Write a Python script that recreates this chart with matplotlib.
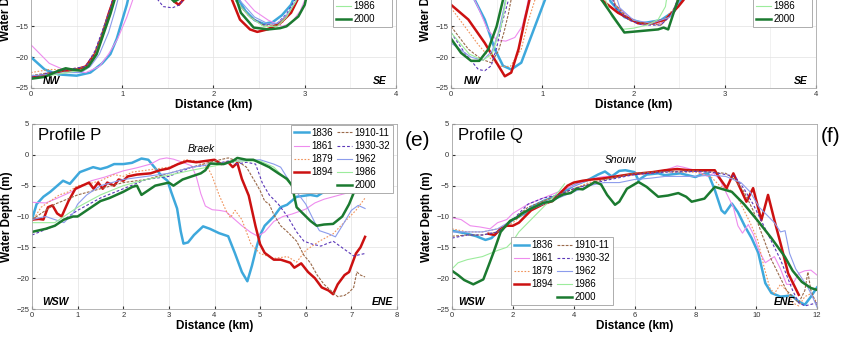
import matplotlib
matplotlib.use("Agg")
import matplotlib.pyplot as plt
from matplotlib.lines import Line2D
from matplotlib.ticker import MultipleLocator

plt.rcParams['font.family'] = ['Liberation Sans', 'DejaVu Sans']

YEARS = ['1836', '1861', '1879', '1894', '1910-11', '1930-32', '1962', '1986', '2000']

# ---- upper left panel (only the deep part is in view) ----
C_1836 = [(0, -20), (0.15, -22), (0.3, -22.8), (0.5, -23), (0.65, -22.5), (0.78, -21), (0.87, -19.5),
          (0.94, -17), (1.0, -14), (1.05, -11.5), (1.12, -7), (1.2, -4), (2.1, -5), (2.25, -10),
          (2.35, -12.5), (2.45, -14), (2.55, -14.6), (2.65, -14.3), (2.75, -13.2), (2.85, -11.5),
          (2.95, -8), (3.05, -4)]
C_1861 = [(0, -18), (0.2, -21), (0.4, -22.3), (0.6, -22.5), (0.75, -21.5), (0.85, -19.5), (0.95, -17),
          (1.05, -13.5), (1.12, -10.5), (1.2, -6), (2.15, -5), (2.3, -10), (2.45, -12.5), (2.6, -14),
          (2.75, -15), (2.85, -14.5), (2.95, -12.5), (3.05, -9), (3.15, -5)]
C_1879 = [(0, -22.5), (0.2, -22), (0.4, -22), (0.6, -21.5), (0.7, -19.5), (0.8, -15), (0.85, -13),
          (0.92, -10), (1.0, -5), (2.1, -6), (2.25, -11), (2.4, -13.5), (2.55, -15), (2.65, -15.2),
          (2.75, -14.5), (2.85, -12.5), (2.95, -9.5), (3.05, -5)]
C_1894 = [(0, -23.3), (0.2, -22.8), (0.35, -22.2), (0.5, -22), (0.6, -21.5), (0.7, -19.5), (0.78, -16.5),
          (0.85, -13), (0.92, -10), (1.0, -5), (1.4, -5), (1.5, -9), (1.57, -11), (1.62, -11.5),
          (1.68, -10.5), (1.75, -8), (1.85, -4), (2.1, -5), (2.2, -10.6), (2.29, -13.9), (2.4, -15.5),
          (2.48, -15.9), (2.59, -15.5), (2.73, -14.5), (2.85, -12.8), (2.92, -10.7), (3.0, -6)]
C_1910 = [(0, -23), (0.2, -22.5), (0.4, -22.3), (0.6, -21.5), (0.7, -19.5), (0.78, -16), (0.85, -13),
          (0.93, -10), (1.0, -5), (2.1, -6), (2.25, -11), (2.4, -13.5), (2.55, -14.8), (2.7, -14.8),
          (2.8, -13.5), (2.9, -11), (3.0, -6)]
C_1930 = [(0, -23.3), (0.2, -22.5), (0.4, -22), (0.6, -21.5), (0.7, -19), (0.8, -15), (0.88, -11.5),
          (0.95, -6), (1.3, -6), (1.38, -10.5), (1.45, -11.8), (1.55, -12), (1.63, -11.5), (1.7, -10),
          (1.78, -6), (2.1, -6), (2.25, -11), (2.4, -13.5), (2.55, -14.8), (2.7, -14.5), (2.8, -13),
          (2.9, -10.5), (3.0, -6)]
C_1962 = [(0, -23), (0.2, -22.8), (0.4, -22.5), (0.55, -22.5), (0.65, -21.5), (0.75, -19.5), (0.85, -16),
          (0.92, -12.5), (1.0, -8), (1.05, -5), (2.15, -6), (2.3, -11), (2.45, -13.5), (2.6, -14.6),
          (2.7, -14.5), (2.8, -13.2), (2.9, -11), (3.0, -6)]
C_1986 = [(0, -23.5), (0.2, -23), (0.4, -22.5), (0.6, -22), (0.7, -20), (0.8, -16), (0.87, -13),
          (0.95, -9), (1.0, -5), (2.1, -6), (2.25, -11), (2.4, -13.5), (2.55, -15), (2.7, -15),
          (2.8, -13.5), (2.9, -11), (3.0, -6)]
C_2000 = [(0, -23.5), (0.15, -23.2), (0.3, -22.2), (0.38, -21.8), (0.45, -22), (0.55, -22.2), (0.63, -21.5),
          (0.72, -19.5), (0.8, -16), (0.87, -13), (0.93, -10), (1.0, -5), (1.4, -6), (1.5, -10),
          (1.57, -11), (1.63, -10.5), (1.72, -7), (1.8, -4), (2.15, -6), (2.3, -12.8), (2.44, -15.2),
          (2.6, -15.5), (2.73, -15.3), (2.8, -15), (2.93, -13.4), (3.0, -11.5), (3.08, -6)]

# ---- upper right panel ----
D_1836 = [(0, -3), (0.2, -8), (0.26, -10.7), (0.37, -13.9), (0.48, -18.7), (0.57, -21.4), (0.66, -22),
          (0.77, -20.9), (0.92, -15), (1.03, -10.7), (1.15, -5), (1.6, -5), (1.75, -11), (1.9, -13.5),
          (2.1, -14.5), (2.3, -14), (2.45, -12.5), (2.55, -10), (2.65, -5)]
D_1861 = [(0, -5), (0.2, -9), (0.3, -12), (0.4, -15.5), (0.5, -17.2), (0.6, -17.4), (0.7, -16.8),
          (0.78, -15), (0.83, -12), (0.9, -6), (1.65, -5), (1.8, -11.5), (1.95, -13.5), (2.1, -14.8),
          (2.3, -14.5), (2.45, -12.5), (2.55, -9), (2.6, -5)]
D_1879 = [(0, -12), (0.15, -15), (0.3, -18), (0.45, -20.5), (0.55, -21.5), (0.65, -21.5), (0.77, -18.7),
          (0.85, -14), (0.92, -10.7), (1.0, -5), (1.65, -5), (1.8, -11.5), (1.95, -14), (2.1, -14.5),
          (2.3, -14.5), (2.45, -12), (2.55, -8), (2.6, -5)]
D_1894 = [(0, -11.5), (0.19, -13.9), (0.37, -17.7), (0.52, -21.4), (0.59, -23.1), (0.66, -22.5),
          (0.74, -18.7), (0.81, -13.9), (0.86, -10.7), (0.92, -5), (1.6, -5), (1.65, -10.7),
          (1.83, -12.8), (2.05, -14.5), (2.2, -14.5), (2.35, -13.9), (2.49, -11.8), (2.55, -10.7),
          (2.62, -5)]
D_1910 = [(0, -15), (0.19, -18.7), (0.33, -20.3), (0.44, -20.9), (0.52, -19), (0.58, -16), (0.63, -12.9),
          (0.68, -9), (0.75, -5), (1.65, -5), (1.8, -11.5), (1.95, -13.8), (2.1, -14.5), (2.3, -14.8),
          (2.42, -13), (2.5, -10), (2.55, -5)]
D_1930 = [(0, -16), (0.15, -19.3), (0.3, -22), (0.37, -22.2), (0.44, -21.4), (0.5, -18.5), (0.55, -15),
          (0.63, -10.7), (0.7, -5), (1.65, -5), (1.8, -12), (1.95, -14), (2.1, -14.8), (2.3, -14.8),
          (2.42, -13), (2.5, -10), (2.55, -5)]
D_1962 = [(0, -17.7), (0.22, -20), (0.35, -20.5), (0.45, -19), (0.52, -16), (0.58, -12), (0.63, -8),
          (0.68, -5), (1.7, -5), (1.85, -12), (2.0, -14), (2.2, -14.5), (2.4, -13.5), (2.5, -11),
          (2.6, -5)]
D_1986 = [(0, -16), (0.2, -19.5), (0.35, -20.5), (0.45, -19.5), (0.55, -15), (0.6, -11), (0.65, -5),
          (1.6, -5), (1.7, -11), (1.76, -13.4), (1.87, -15.5), (2.0, -15.3), (2.15, -14.8),
          (2.27, -13.9), (2.35, -11.8), (2.42, -5)]
D_2000 = [(0, -17), (0.11, -19.3), (0.22, -20.6), (0.31, -20.6), (0.41, -18.7), (0.5, -15), (0.57, -10.7),
          (0.63, -5), (1.55, -5), (1.65, -10.7), (1.8, -13.9), (1.9, -16), (2.05, -15.8), (2.27, -15.5),
          (2.33, -15.2), (2.38, -15.5), (2.44, -12.8), (2.49, -10.7), (2.55, -5)]

# ---- Profile P ----
P_1836 = [(0, -10.5), (0.1, -8), (0.25, -6.8), (0.4, -6), (0.68, -4.2), (0.83, -4.7), (1.05, -2.8),
          (1.34, -2), (1.5, -2.3), (1.65, -2), (1.8, -1.5), (2.0, -1.5), (2.19, -1.3), (2.4, -0.6),
          (2.55, -0.8), (2.66, -1.8), (2.85, -3.5), (2.97, -4.2), (3.05, -6), (3.18, -8.7), (3.26, -12.4),
          (3.32, -14.4), (3.42, -14.2), (3.55, -13), (3.75, -11.6), (3.9, -12), (4.1, -12.7), (4.3, -13.2),
          (4.45, -16), (4.6, -19), (4.72, -20.5), (4.82, -18), (4.92, -15), (5.0, -13), (5.1, -11.5),
          (5.3, -10), (5.45, -8.5), (5.59, -8.1), (5.8, -6.8), (6.1, -6.5), (6.25, -6.7), (6.4, -6),
          (6.55, -5.3), (6.65, -4.5)]
P_1861 = [(0, -7.7), (0.3, -7.8), (0.5, -7.2), (0.8, -6.2), (1.0, -5.5), (1.3, -4.2), (1.6, -3.6),
          (2.0, -2.6), (2.3, -2.1), (2.6, -1.5), (2.8, -0.7), (2.95, -0.5), (3.1, -0.7), (3.3, -1.2),
          (3.5, -1.8), (3.6, -3.5), (3.7, -6.3), (3.8, -8.3), (3.95, -8.9), (4.1, -9), (4.25, -9.2),
          (4.4, -10.2), (4.6, -11.5), (4.8, -12.6), (4.95, -13.2), (5.1, -12.5), (5.3, -10.8),
          (5.5, -10), (5.7, -9.6), (6.0, -8.8), (6.2, -7.8), (6.4, -7.2), (6.7, -6.6), (6.95, -6.1)]
P_1879 = [(0, -10.8), (0.2, -8.5), (0.4, -7.5), (0.6, -6.5), (0.8, -6), (1.0, -5), (1.2, -4.8),
          (1.5, -4.2), (1.8, -3.2), (2.0, -3.5), (2.2, -2.8), (2.5, -2.5), (2.8, -2.2), (3.0, -2),
          (3.2, -1.5), (3.35, -0.8), (3.6, -1), (3.85, -2), (3.95, -3.5), (4.1, -6.5), (4.25, -9),
          (4.35, -10.2), (4.45, -9), (4.6, -10.5), (4.8, -14.5), (5.0, -16), (5.3, -16.8), (5.6, -16.5),
          (5.8, -17.4), (6.0, -15.5), (6.3, -14), (6.6, -12.8), (6.9, -10.5), (7.1, -9), (7.3, -7)]
P_1894 = [(0, -10.5), (0.15, -10.4), (0.25, -10.5), (0.35, -8.5), (0.45, -8.2), (0.55, -9.5),
          (0.65, -10), (0.8, -7.5), (0.95, -5.5), (1.1, -5), (1.25, -4.5), (1.35, -5.5), (1.45, -4.5),
          (1.55, -5.5), (1.65, -4.5), (1.8, -5), (1.9, -4), (2.0, -4.2), (2.1, -3.5), (2.3, -3.2),
          (2.6, -3), (2.8, -2.5), (3.0, -2.2), (3.2, -1.5), (3.4, -1), (3.6, -1.2), (3.8, -1),
          (4.0, -0.8), (4.15, -1.5), (4.3, -1.2), (4.4, -2), (4.5, -1.3), (4.6, -3.9), (4.75, -6.6),
          (4.9, -11.6), (5.0, -14.5), (5.1, -15.9), (5.3, -17), (5.45, -17), (5.66, -17.5),
          (5.75, -18.3), (5.9, -17.6), (6.05, -19), (6.2, -20), (6.35, -21.5), (6.5, -22), (6.6, -22.6),
          (6.7, -21), (6.85, -19.5), (6.95, -19), (7.1, -16), (7.2, -15), (7.3, -13.3)]
P_1910 = [(0, -10.5), (0.5, -8), (1.0, -6.5), (1.5, -5.5), (2.0, -4.5), (2.5, -4), (3.0, -3), (3.5, -2),
          (4.0, -1), (4.3, -0.5), (4.5, -1), (4.7, -2), (4.9, -4.5), (5.0, -5.8), (5.1, -7.5),
          (5.2, -8), (5.3, -9.7), (5.45, -11.5), (5.6, -12.5), (5.8, -14), (5.96, -16.3), (6.1, -17.5),
          (6.25, -19.5), (6.4, -21), (6.55, -22), (6.7, -23), (6.85, -22.8), (6.95, -22.3),
          (7.05, -21.5), (7.12, -19), (7.2, -19.5), (7.3, -19.8)]
P_1930 = [(0, -13), (0.5, -11.5), (1.0, -9), (1.5, -7), (2.0, -5.5), (2.5, -4), (3.0, -3.5), (3.5, -2),
          (4.0, -1.5), (4.3, -1), (4.5, -1.5), (4.7, -1.2), (4.9, -1.5), (5.05, -4.6), (5.2, -6.5),
          (5.4, -8), (5.6, -10), (5.8, -12.5), (5.96, -14), (6.15, -14.5), (6.33, -14.8), (6.6, -14),
          (6.9, -15.6), (7.05, -16.4), (7.3, -16)]
P_1962 = [(0, -10.5), (0.3, -10), (0.5, -10.5), (0.7, -11), (0.9, -9.5), (1.0, -8), (1.2, -6.5),
          (1.5, -5), (2.0, -4), (2.5, -3.5), (3.0, -3), (3.5, -2), (4.0, -1.5), (4.5, -1), (5.0, -0.8),
          (5.3, -1.5), (5.45, -2), (5.7, -5), (5.88, -6.8), (6.0, -8), (6.1, -9.5), (6.2, -11),
          (6.3, -12.3), (6.5, -12.8), (6.65, -13.3), (6.8, -11.5), (7.0, -9), (7.15, -8.2), (7.3, -8.7)]
P_1986 = [(0, -11), (0.5, -11), (1.0, -8.5), (1.5, -6.5), (2.0, -5), (2.5, -4), (3.0, -3.3), (3.5, -2.5),
          (4.0, -1.8), (4.5, -1), (5.0, -1), (5.3, -2), (5.5, -3.5), (5.7, -5)]
P_2000 = [(0, -12.5), (0.3, -12), (0.5, -11.5), (0.7, -10.5), (0.9, -10), (1.0, -10), (1.1, -9.5),
          (1.3, -8.5), (1.5, -7.5), (1.7, -7), (2.0, -6), (2.2, -5.2), (2.3, -5), (2.4, -6.5),
          (2.5, -6), (2.7, -5), (3.0, -4.5), (3.1, -5), (3.3, -4), (3.5, -3.5), (3.7, -3), (3.8, -2.5),
          (3.9, -1.4), (4.2, -1.5), (4.4, -1), (4.5, -0.5), (4.7, -0.8), (4.85, -0.8), (5.0, -1.3),
          (5.2, -2), (5.4, -3), (5.59, -3.9), (5.7, -5), (5.8, -8.5), (5.95, -9.6), (6.1, -10.7),
          (6.24, -11.5), (6.4, -11.3), (6.6, -11.2), (6.8, -10), (6.95, -8), (7.1, -5.3)]

# ---- Profile Q ----
Q_1836 = [(0, -12.3), (0.5, -12.8), (0.8, -13.2), (1.1, -13.8), (1.3, -13.5), (1.5, -12.5), (1.86, -11.1),
          (2.0, -10.5), (2.4, -9.5), (2.6, -8.5), (3.0, -7.5), (3.5, -6.5), (4.0, -5), (4.5, -4),
          (4.8, -3.2), (5.03, -2.7), (5.25, -3.5), (5.5, -2.6), (5.7, -2.5), (6.0, -2.8), (6.13, -4.1),
          (6.4, -3.2), (6.78, -3), (7.0, -3.3), (7.5, -3), (8.0, -3.6), (8.2, -3.2), (8.42, -3),
          (8.64, -5.7), (8.86, -9), (8.97, -9.5), (9.2, -7.9), (9.4, -9.3), (9.63, -11.6), (9.85, -13.5),
          (10.07, -15.9), (10.3, -20.8), (10.5, -22.4), (10.8, -23), (11.16, -22.8), (11.4, -23.8),
          (11.6, -24.3), (11.8, -23), (12.0, -21.5)]
Q_1861 = [(0, -10.2), (0.3, -10.5), (0.6, -11.5), (0.92, -11.7), (1.25, -12), (1.5, -11), (1.8, -10.5),
          (2.0, -9.5), (2.5, -8), (3.0, -7), (3.5, -6), (4.0, -5), (4.5, -4), (5.0, -3.5), (5.5, -3.5),
          (6.0, -3), (6.5, -3), (7.0, -2.5), (7.4, -1.8), (7.6, -2), (8.0, -2.5), (8.4, -3.5), (8.6, -3),
          (8.8, -4), (9.0, -6), (9.25, -8.5), (9.4, -11.5), (9.55, -12.7), (9.74, -11.3), (9.9, -12.8),
          (10.1, -15.6), (10.3, -17.5), (10.45, -17), (10.6, -16.5), (10.8, -18.5), (11.0, -21),
          (11.2, -21), (11.4, -19.2), (11.6, -18.8), (11.8, -18.7), (12.0, -19.5)]
Q_1879 = [(0, -12), (0.5, -12.5), (1.0, -12.5), (1.5, -12), (2.0, -11), (2.5, -9), (3.0, -7.5), (3.5, -6.5),
          (4.0, -5.5), (4.5, -4.5), (5.0, -4), (5.5, -3.5), (6.0, -3), (7.0, -2.8), (8.0, -2.8),
          (8.5, -3.5), (8.8, -5), (9.15, -5.7), (9.4, -7), (9.6, -9), (9.8, -11), (10.05, -13.8),
          (10.25, -18), (10.45, -21.6), (10.6, -22.5), (10.8, -21), (11.0, -22), (11.2, -24),
          (11.4, -24.5), (11.6, -23), (11.8, -22.5), (12.0, -24)]
Q_1894 = [(1.2, -12.8), (1.4, -13), (1.6, -12), (1.8, -11.5), (2.0, -11.5), (2.2, -11), (2.4, -10),
          (2.6, -9), (2.8, -8.5), (3.0, -8), (3.3, -7.5), (3.6, -6), (3.8, -5), (4.0, -4.5), (4.3, -4.2),
          (4.6, -4), (5.0, -3.8), (5.4, -3.5), (5.8, -3.2), (6.2, -3), (6.6, -2.8), (7.0, -2.5),
          (7.4, -2.3), (7.8, -2.5), (8.2, -2.5), (8.64, -2.5), (8.8, -3.8), (9.03, -5.4), (9.25, -3),
          (9.68, -7.6), (9.9, -5.4), (10.17, -10.6), (10.39, -6.5), (10.6, -10.6), (10.83, -14.9),
          (11.05, -19.2), (11.4, -22.7)]
Q_1910 = [(0, -13.2), (0.5, -13), (1.0, -13), (1.5, -12.5), (2.0, -10.5), (2.5, -8.5), (3.0, -7.5),
          (3.5, -6.5), (4.0, -5.5), (5.0, -4), (6.0, -3), (7.0, -2.7), (8.0, -2.6), (8.5, -2.8),
          (9.0, -3), (9.3, -4), (9.6, -6), (9.9, -9), (10.2, -13), (10.5, -17), (10.8, -20), (11.0, -22),
          (11.2, -23), (11.4, -24), (11.6, -22), (11.7, -19), (11.8, -22), (12.0, -24.5)]
Q_1930 = [(0, -13.5), (0.5, -13), (1.0, -13), (1.5, -12.5), (2.0, -10.5), (2.5, -8), (3.0, -7), (3.5, -6.5),
          (4.0, -5.5), (5.0, -4.2), (6.0, -3.2), (7.0, -2.8), (8.0, -2.7), (8.5, -2.8), (9.0, -3.2),
          (9.3, -3.5), (9.6, -5.5), (9.9, -8), (10.2, -11), (10.5, -14), (10.8, -17), (11.0, -19.5),
          (11.2, -22), (11.4, -24), (11.6, -24.5), (12.0, -24)]
Q_1962 = [(0, -12.5), (0.5, -12.5), (1.0, -12.5), (1.5, -12), (2.0, -10.5), (2.5, -9), (3.0, -8), (3.5, -7),
          (4.0, -6), (4.5, -5), (5.0, -4.5), (5.5, -4.5), (6.0, -4), (6.5, -3.8), (7.0, -3.5), (7.5, -3.5),
          (8.0, -3.5), (8.5, -3.3), (9.0, -3.5), (9.5, -4.5), (9.8, -6), (10.1, -8.5), (10.4, -10),
          (10.6, -11), (10.8, -12.5), (10.95, -12.3), (11.1, -16), (11.3, -18.5), (11.5, -20),
          (11.7, -21.5), (11.85, -23), (12.0, -24.7)]
Q_1986 = [(0, -18.5), (0.2, -17.5), (0.5, -17), (1.0, -16.5), (1.5, -15.5), (1.8, -15), (2.0, -14),
          (2.2, -12.5), (2.5, -11), (2.8, -9.5), (3.0, -8.5), (3.2, -7.5), (3.5, -6), (3.7, -4.7)]
Q_2000 = [(0, -18.8), (0.2, -19.5), (0.4, -20.3), (0.7, -21), (1.03, -20.2), (1.2, -18), (1.36, -15.9),
          (1.6, -12.5), (1.91, -10.7), (2.13, -10.2), (2.3, -9.5), (2.57, -8.8), (3.0, -7.8),
          (3.3, -7.5), (3.5, -6.8), (3.67, -6.4), (3.9, -6.2), (4.1, -5.5), (4.3, -5.6), (4.5, -5),
          (4.7, -4.4), (4.9, -4.8), (5.1, -6.5), (5.36, -8.1), (5.5, -7.6), (5.75, -5.5), (6.13, -4.4),
          (6.4, -5.2), (6.78, -6.8), (7.1, -6.6), (7.44, -6.2), (7.7, -6.8), (7.88, -7.6), (8.3, -7.1),
          (8.64, -5.2), (9.2, -6), (9.6, -8), (10.07, -10.8), (10.5, -13.5), (10.94, -16.5),
          (11.2, -18.8), (11.5, -20.6), (11.8, -21.6), (12.0, -21.9)]

C_SERIES = [C_1836, C_1861, C_1879, C_1894, C_1910, C_1930, C_1962, C_1986, C_2000]
D_SERIES = [D_1836, D_1861, D_1879, D_1894, D_1910, D_1930, D_1962, D_1986, D_2000]
P_SERIES = [P_1836, P_1861, P_1879, P_1894, P_1910, P_1930, P_1962, P_1986, P_2000]
Q_SERIES = [Q_1836, Q_1861, Q_1879, Q_1894, Q_1910, Q_1930, Q_1962, Q_1986, Q_2000]

STYLE = {
    '1836': dict(color='#3ea8dc', lw=1.8, ls='-'),
    '1861': dict(color='#ee8cee', lw=0.8, ls='-'),
    '1879': dict(color='#f0925a', lw=0.8, ls=(0, (1.5, 1.5))),
    '1894': dict(color='#cc1111', lw=1.8, ls='-'),
    '1910-11': dict(color='#9a6a4a', lw=0.8, ls=(0, (2.5, 1.2))),
    '1930-32': dict(color='#5a36b8', lw=0.8, ls=(0, (2.5, 1.8))),
    '1962': dict(color='#8c9cec', lw=0.8, ls='-'),
    '1986': dict(color='#9cec9c', lw=0.8, ls='-'),
    '2000': dict(color='#1b7a30', lw=1.8, ls='-'),
}

W, H = 850, 340
fig = plt.figure(figsize=(W / 100, H / 100), dpi=100)


def axes_at(left, bottom_px):
    # left edge in px, bottom edge in px from top; each panel 365 x 185 px
    return fig.add_axes([left / W, (H - bottom_px) / H, 365 / W, 185 / H])


def draw_panel(ax, series, xmax, xstep, minor=None):
    for yr, pts in zip(YEARS, series):
        x, d = zip(*pts)
        ax.plot(x, d, label=yr, **STYLE[yr])
    ax.set_xlim(0, xmax)
    ax.set_ylim(-25, 5)
    ax.xaxis.set_major_locator(MultipleLocator(xstep))
    ax.yaxis.set_major_locator(MultipleLocator(5))
    if minor:
        ax.xaxis.set_minor_locator(MultipleLocator(minor))
        ax.grid(True, which='minor', axis='x', color='#ececec', lw=0.5)
        ax.tick_params(which='minor', length=0)
    ax.grid(True, which='major', color='#e2e2e2', lw=0.5)
    ax.set_axisbelow(True)
    ax.tick_params(labelsize=5.5, colors='#333333', direction='in', length=2, pad=2)
    for s in ax.spines.values():
        s.set_color('#a8a8a8')
        s.set_linewidth(0.6)
    ax.set_xlabel('Distance (km)', fontsize=8.5, fontweight='bold', labelpad=1)
    ax.set_ylabel('Water Depth (m)', fontsize=8.5, fontweight='bold', labelpad=2)


LEG = dict(fontsize=7, handlelength=1.5, handletextpad=0.3, labelspacing=0.32, borderpad=0.3,
           columnspacing=0.4, fancybox=False, framealpha=1, edgecolor='#a0a0a0', borderaxespad=0)


def two_col_legend(ax, **kw):
    h, l = ax.get_legend_handles_labels()
    blank = Line2D([], [], ls='none')
    h = h[:4] + [blank] + h[4:]
    l = l[:4] + [''] + l[4:]
    leg = ax.legend(h, l, ncol=2, **LEG, **kw)
    leg.get_frame().set_linewidth(0.6)


def side_labels(ax, x_left, x_right, left, right):
    ax.text(x_left, -24.7, left, fontsize=7.5, fontweight='bold', style='italic', va='bottom', ha='left')
    ax.text(x_right, -24.7, right, fontsize=7.5, fontweight='bold', style='italic', va='bottom', ha='right')


# upper panels, mostly above the figure edge
ax_c = axes_at(31, 88)
draw_panel(ax_c, C_SERIES, 4, 1, minor=0.5)
side_labels(ax_c, 0.13, 3.9, 'NW', 'SE')
lc = ax_c.legend(loc='lower right', bbox_to_anchor=(0.99, 0.33), **LEG)
lc.get_frame().set_linewidth(0.6)

ax_d = axes_at(451, 88)
draw_panel(ax_d, D_SERIES, 4, 1, minor=0.5)
side_labels(ax_d, 0.14, 3.91, 'NW', 'SE')
ld = ax_d.legend(loc='lower right', bbox_to_anchor=(0.989, 0.33), **LEG)
ld.get_frame().set_linewidth(0.6)

# Profile P
ax_p = axes_at(32, 309)
draw_panel(ax_p, P_SERIES, 8, 1)
side_labels(ax_p, 0.22, 7.92, 'WSW', 'ENE')
ax_p.text(0.13, 3.2, 'Profile P', fontsize=12, va='center', ha='left')
ax_p.text(3.7, 0.95, 'Braek', fontsize=7.5, style='italic', ha='center', va='center')
two_col_legend(ax_p, loc='upper right', bbox_to_anchor=(0.99, 0.995))

# Profile Q
ax_q = axes_at(452, 309)
draw_panel(ax_q, Q_SERIES, 12, 2)
side_labels(ax_q, 0.2, 11.28, 'WSW', 'ENE')
ax_q.text(0.2, 3.2, 'Profile Q', fontsize=12, va='center', ha='left')
ax_q.text(5.53, -0.9, 'Snouw', fontsize=7.5, style='italic', ha='center', va='center')
two_col_legend(ax_q, loc='lower left', bbox_to_anchor=(0.162, 0.02))

fig.text(417 / W, (H - 140) / H, '(e)', fontsize=15, ha='center', va='center')
fig.text(831 / W, (H - 137) / H, '(f)', fontsize=15, ha='center', va='center')

fig.savefig('out.png', dpi=100)
